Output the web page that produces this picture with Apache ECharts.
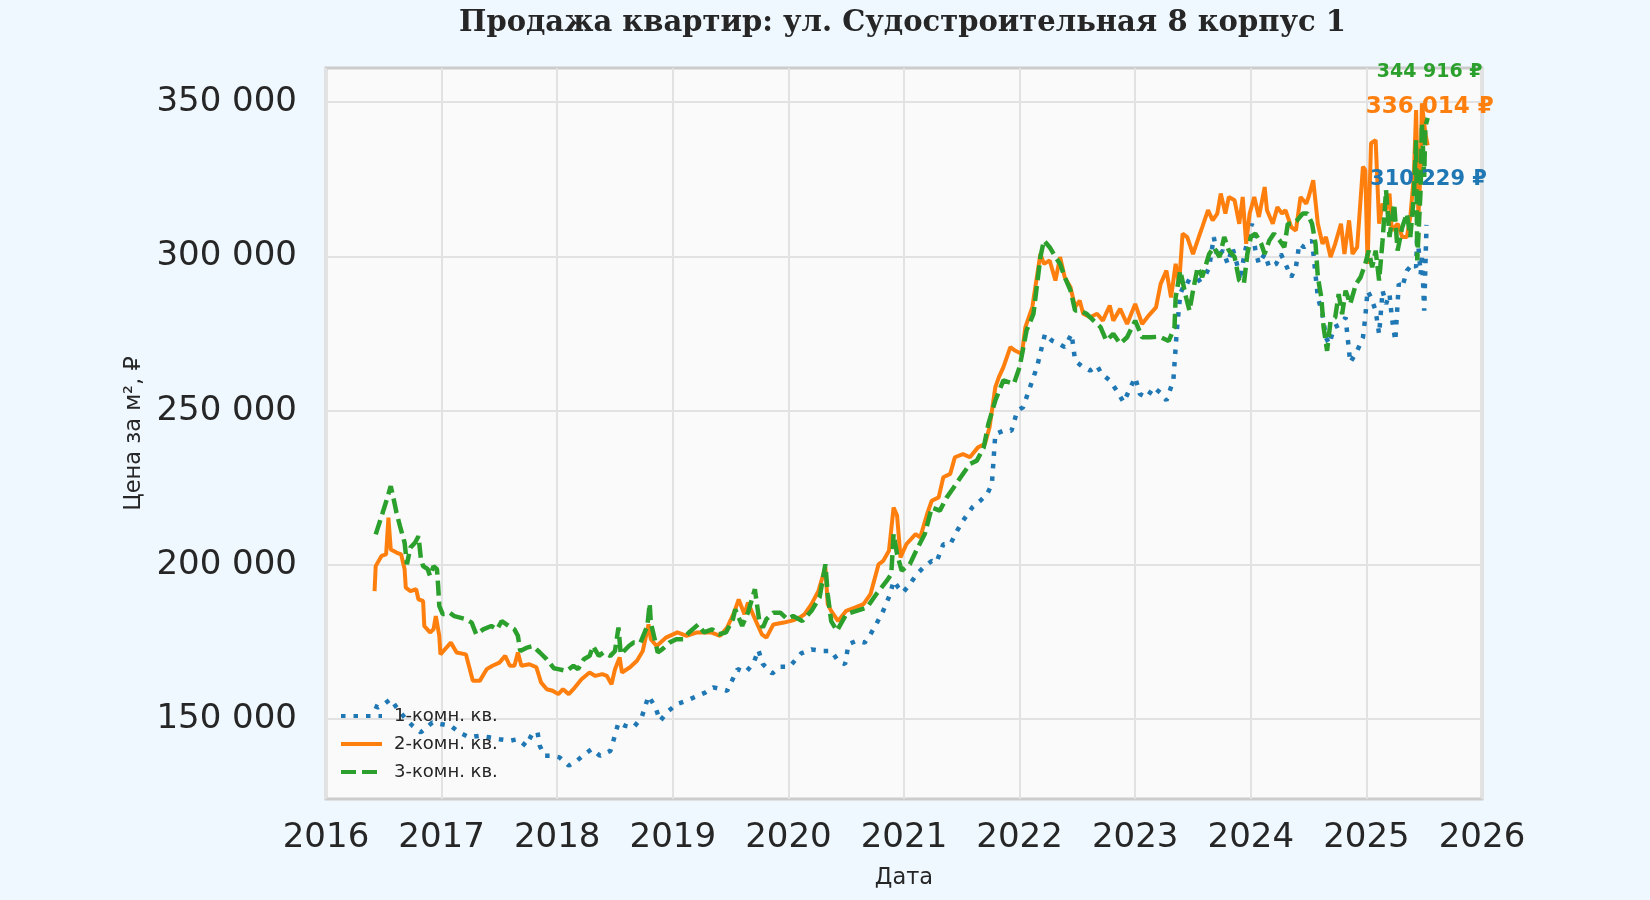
<!DOCTYPE html>
<html><head><meta charset="utf-8">
<script src="https://cdn.jsdelivr.net/npm/echarts@6/dist/echarts.min.js"></script>
<style>html,body{margin:0;padding:0;background:#f0f8ff;}#c{width:1650px;height:900px;}</style>
</head><body><div id="c"></div>
<script>
const titleText = 'Продажа квартир: ул. Судостроительная 8 корпус 1';
const seriesNames = ['1-комн. кв.', '2-комн. кв.', '3-комн. кв.'];
const xAxisTitle = 'Дата';
const yAxisTitle = 'Цена за м², ₽';
const yTicks = [150000, 200000, 250000, 300000, 350000];
const xTicks = [2016, 2017, 2018, 2019, 2020, 2021, 2022, 2023, 2024, 2025, 2026];

// [decimal year, price per m²]
const room1 = [
[2016.42,154300],[2016.45,153800],[2016.50,154800],[2016.56,156500],[2016.61,153800],[2016.69,150000],
[2016.75,147800],[2016.82,145700],[2016.92,148900],[2016.99,148400],[2017.08,147800],[2017.15,145700],
[2017.24,144100],[2017.33,144600],[2017.41,144100],[2017.50,143500],[2017.59,143000],[2017.66,143500],
[2017.73,141300],[2017.79,145700],[2017.83,145700],[2017.85,141300],[2017.89,138100],[2017.96,138100],
[2018.02,137600],[2018.10,134900],[2018.17,136500],[2018.24,138700],[2018.30,140300],[2018.37,138100],
[2018.46,139700],[2018.49,143500],[2018.53,148900],[2018.59,147800],[2018.66,147300],[2018.73,150500],
[2018.79,157500],[2018.85,153800],[2018.89,149400],[2018.95,152200],[2019.03,154800],[2019.12,156000],
[2019.21,157500],[2019.28,158600],[2019.35,160300],[2019.42,159700],[2019.47,159200],[2019.56,166200],
[2019.63,165100],[2019.70,168300],[2019.74,172400],[2019.78,167800],[2019.86,164800],[2019.93,167000],
[2020.01,167000],[2020.11,171300],[2020.20,172600],[2020.29,172100],[2020.37,172100],[2020.43,168900],
[2020.49,167800],[2020.52,174300],[2020.59,175400],[2020.66,174800],[2020.71,177500],[2020.76,180800],
[2020.82,185100],[2020.88,190500],[2020.91,194800],[2020.95,192700],[2020.99,191000],[2021.05,193700],
[2021.11,197000],[2021.17,199200],[2021.24,201300],[2021.28,200800],[2021.34,206700],[2021.40,206700],
[2021.46,211100],[2021.51,214300],[2021.59,218600],[2021.66,220800],[2021.72,223000],[2021.76,226200],
[2021.79,242400],[2021.86,243500],[2021.93,243500],[2021.98,250000],[2022.03,251100],[2022.09,257600],
[2022.15,264100],[2022.22,274900],[2022.28,272700],[2022.34,271700],[2022.39,270600],[2022.45,274900],
[2022.48,266200],[2022.55,264100],[2022.61,263000],[2022.67,264600],[2022.71,261900],[2022.78,259800],
[2022.84,256500],[2022.90,252700],[2022.96,257600],[2023.00,260800],[2023.04,255400],[2023.10,254300],
[2023.16,257600],[2023.23,255400],[2023.27,253300],[2023.33,259800],[2023.36,276000],[2023.39,287900],
[2023.44,292200],[2023.50,291100],[2023.55,292200],[2023.60,293300],[2023.64,296500],[2023.68,306300],
[2023.71,299800],[2023.76,301900],[2023.80,297600],[2023.84,303000],[2023.88,297600],[2023.91,292200],
[2023.94,299800],[2023.99,308400],[2024.01,310600],[2024.04,301900],[2024.07,297600],[2024.12,300800],
[2024.16,296500],[2024.22,297600],[2024.26,300800],[2024.30,297600],[2024.35,293300],[2024.39,296500],
[2024.42,304100],[2024.46,303000],[2024.50,304100],[2024.53,305200],[2024.58,286700],[2024.62,281300],
[2024.65,273700],[2024.68,271600],[2024.72,277000],[2024.78,278100],[2024.82,280200],[2024.86,265600],
[2024.92,269400],[2024.97,273700],[2024.99,280200],[2025.01,288900],[2025.04,286700],[2025.08,282400],
[2025.11,274800],[2025.14,288900],[2025.17,284600],[2025.20,287800],[2025.22,280200],[2025.25,272600],
[2025.28,291100],[2025.31,290000],[2025.35,295400],[2025.40,297600],[2025.43,296500],[2025.44,307400],
[2025.47,294300],[2025.48,300800],[2025.50,282400],[2025.52,310229]
];

const room2 = [
[2016.42,191500],[2016.43,199600],[2016.48,202900],[2016.52,203400],[2016.54,215300],[2016.56,205000],
[2016.61,204000],[2016.65,203400],[2016.68,198600],[2016.69,192600],[2016.73,191500],[2016.78,192100],
[2016.80,188800],[2016.84,188300],[2016.85,180200],[2016.90,178100],[2016.93,179100],[2016.95,183400],
[2016.98,177000],[2016.99,171000],[2017.08,174800],[2017.13,171600],[2017.21,171000],[2017.27,162400],
[2017.33,162400],[2017.39,166200],[2017.44,167300],[2017.50,168300],[2017.55,170500],[2017.59,167300],
[2017.63,167300],[2017.66,171600],[2017.69,167300],[2017.76,167800],[2017.82,166800],[2017.86,161900],
[2017.91,159700],[2017.96,159200],[2018.01,158100],[2018.05,159700],[2018.10,158100],[2018.14,159700],
[2018.21,162900],[2018.28,165100],[2018.33,164000],[2018.39,164600],[2018.43,164000],[2018.47,161300],
[2018.50,166200],[2018.54,170000],[2018.56,165100],[2018.63,166800],[2018.69,168900],[2018.74,172100],
[2018.79,180700],[2018.81,175900],[2018.86,173700],[2018.94,176400],[2019.04,178100],[2019.12,177000],
[2019.21,178100],[2019.33,178100],[2019.41,177000],[2019.47,179700],[2019.53,184500],[2019.57,188800],
[2019.62,184000],[2019.65,187800],[2019.70,183400],[2019.77,177500],[2019.81,176400],[2019.87,180700],
[2019.96,181300],[2020.04,182000],[2020.10,183000],[2020.14,184000],[2020.20,187300],[2020.26,191600],
[2020.32,199200],[2020.34,187300],[2020.37,185100],[2020.43,181800],[2020.50,185100],[2020.58,186200],
[2020.65,187300],[2020.71,190500],[2020.78,200200],[2020.82,201300],[2020.87,204600],[2020.91,218600],
[2020.92,219000],[2020.94,216000],[2020.97,202400],[2021.02,206700],[2021.10,210000],[2021.14,208900],
[2021.20,216500],[2021.24,220800],[2021.30,221900],[2021.34,228400],[2021.40,229500],[2021.44,234900],
[2021.51,235900],[2021.57,234900],[2021.64,238100],[2021.70,239200],[2021.74,244600],[2021.79,257600],
[2021.82,260800],[2021.86,264100],[2021.92,270600],[2021.96,269500],[2022.02,268400],[2022.05,277100],
[2022.11,283600],[2022.18,300900],[2022.21,297600],[2022.26,298700],[2022.31,292200],[2022.35,299800],
[2022.39,293300],[2022.44,290000],[2022.48,283600],[2022.52,285700],[2022.55,281400],[2022.61,280300],
[2022.67,281400],[2022.72,279200],[2022.78,284100],[2022.81,279200],[2022.87,283000],[2022.93,278100],
[2023.00,284600],[2023.06,278100],[2023.12,281000],[2023.18,283500],[2023.22,291100],[2023.27,295400],
[2023.31,286700],[2023.35,297600],[2023.38,291100],[2023.41,307400],[2023.45,306300],[2023.50,300800],
[2023.55,306300],[2023.58,309500],[2023.63,315000],[2023.67,311700],[2023.71,313900],[2023.74,320400],
[2023.78,313900],[2023.81,319300],[2023.86,318200],[2023.90,310600],[2023.93,319300],[2023.96,304100],
[2023.99,313900],[2024.03,319300],[2024.07,312800],[2024.12,322500],[2024.14,315000],[2024.19,310600],
[2024.23,316000],[2024.27,313900],[2024.30,315000],[2024.35,309500],[2024.39,308400],[2024.43,319300],
[2024.48,317100],[2024.50,319300],[2024.54,324700],[2024.58,310600],[2024.62,304100],[2024.65,306300],
[2024.69,299800],[2024.73,304100],[2024.78,310600],[2024.81,300800],[2024.85,311700],[2024.88,300800],
[2024.92,303000],[2024.97,329100],[2024.99,328000],[2025.01,297600],[2025.04,336700],[2025.08,337700],
[2025.11,310600],[2025.14,317100],[2025.17,315000],[2025.20,320400],[2025.22,308400],[2025.27,310600],
[2025.31,306300],[2025.35,306300],[2025.38,312800],[2025.41,325800],[2025.43,347500],[2025.45,312800],
[2025.47,329100],[2025.48,349700],[2025.51,339900],[2025.53,336014]
];

const room3 = [
[2016.43,209900],[2016.49,216900],[2016.53,221700],[2016.56,225500],[2016.58,222300],[2016.61,216900],
[2016.64,212600],[2016.68,207200],[2016.70,200200],[2016.73,205600],[2016.77,207200],[2016.80,209300],
[2016.82,202300],[2016.84,199600],[2016.88,198600],[2016.90,196400],[2016.93,199600],[2016.96,198600],
[2016.97,193200],[2016.98,186700],[2017.01,184000],[2017.07,184500],[2017.11,183400],[2017.16,182900],
[2017.21,182400],[2017.26,181300],[2017.30,177500],[2017.36,179100],[2017.43,180200],[2017.48,179100],
[2017.52,181800],[2017.58,180200],[2017.63,179100],[2017.66,177000],[2017.68,172100],[2017.74,173200],
[2017.79,173700],[2017.85,171600],[2017.91,169400],[2017.97,166500],[2018.01,166200],[2018.08,165600],
[2018.14,167300],[2018.18,166200],[2018.23,169400],[2018.28,170500],[2018.31,173700],[2018.36,170500],
[2018.40,171600],[2018.46,170500],[2018.50,172100],[2018.53,179700],[2018.55,171000],[2018.62,173700],
[2018.66,174800],[2018.72,174800],[2018.78,180200],[2018.80,187500],[2018.81,181300],[2018.87,171600],
[2018.91,172700],[2018.97,174800],[2019.03,175900],[2019.09,175900],[2019.14,178100],[2019.22,180700],
[2019.27,178100],[2019.34,179100],[2019.40,177500],[2019.46,178100],[2019.52,182400],[2019.54,185600],
[2019.60,180200],[2019.65,184500],[2019.71,192100],[2019.75,181300],[2019.78,179700],[2019.81,182400],
[2019.87,184500],[2019.93,184500],[2019.99,182400],[2020.04,183400],[2020.12,181800],[2020.20,185100],
[2020.27,189500],[2020.32,200200],[2020.34,190500],[2020.37,181800],[2020.42,178600],[2020.50,184000],
[2020.59,185100],[2020.68,186200],[2020.76,190500],[2020.85,194800],[2020.89,197000],[2020.91,210000],
[2020.94,203500],[2020.98,198100],[2021.05,200200],[2021.12,205700],[2021.18,210000],[2021.24,218600],
[2021.31,217600],[2021.37,221900],[2021.43,225100],[2021.49,228400],[2021.57,232700],[2021.63,233800],
[2021.69,238100],[2021.73,245700],[2021.79,253300],[2021.86,259800],[2021.95,258700],[2022.00,264100],
[2022.06,276000],[2022.12,281400],[2022.18,299800],[2022.21,305200],[2022.26,303000],[2022.31,299800],
[2022.35,297600],[2022.39,293300],[2022.44,289000],[2022.48,282500],[2022.52,282500],[2022.58,281400],
[2022.64,279200],[2022.70,277100],[2022.75,272700],[2022.81,274900],[2022.87,271700],[2022.93,273800],
[2023.00,279200],[2023.06,273800],[2023.13,273800],[2023.21,274000],[2023.29,272600],[2023.34,277000],
[2023.35,286700],[2023.39,295400],[2023.44,286700],[2023.47,282400],[2023.50,288900],[2023.54,296500],
[2023.58,293300],[2023.64,300800],[2023.68,303000],[2023.73,299800],[2023.77,306300],[2023.81,301900],
[2023.86,299800],[2023.90,292200],[2023.94,291100],[2023.97,300800],[2024.00,306300],[2024.04,307400],
[2024.09,304100],[2024.12,300800],[2024.16,305200],[2024.20,307400],[2024.25,305200],[2024.29,303000],
[2024.32,310600],[2024.36,310600],[2024.40,311700],[2024.45,313900],[2024.49,313900],[2024.53,310600],
[2024.56,304100],[2024.58,293300],[2024.61,286700],[2024.63,277000],[2024.66,269400],[2024.69,279100],
[2024.73,280200],[2024.76,287800],[2024.79,281300],[2024.82,288900],[2024.86,284600],[2024.91,291100],
[2024.95,293300],[2024.99,297600],[2025.02,301900],[2025.05,296500],[2025.08,301900],[2025.11,292200],
[2025.14,305200],[2025.17,321500],[2025.20,306300],[2025.24,317100],[2025.27,301900],[2025.31,309500],
[2025.35,313900],[2025.38,306300],[2025.41,319300],[2025.43,337700],[2025.44,298700],[2025.47,322500],
[2025.48,343200],[2025.50,325800],[2025.51,342100],[2025.53,344916]
];

const fmt = v => String(Math.round(v)).replace(/\B(?=(\d{3})+(?!\d))/g, ' ');
const FONT = 'DejaVu Sans';
const TXT = '#262626';

function lastLabel(data, color, size, offset) {
  const last = data[data.length - 1];
  return {
    symbol: 'circle', symbolSize: 1,
    itemStyle: { color: 'rgba(0,0,0,0)' },
    label: { show: true, position: 'inside', formatter: fmt(last[1]) + ' ₽', color: color,
      fontFamily: FONT, fontWeight: 'bold', fontSize: size, offset: offset },
    data: [{ coord: [last[0], last[1]] }]
  };
}

const chart = echarts.init(document.getElementById('c'), null, { renderer: 'canvas' });
chart.setOption({
  backgroundColor: '#f0f8ff',
  animation: false,
  title: {
    text: titleText, left: 459, top: 7, padding: 0,
    textStyle: { fontFamily: 'DejaVu Serif', fontWeight: 'bold', fontSize: 29, color: TXT, lineHeight: 32 }
  },
  legend: {
    data: seriesNames, orient: 'vertical', left: 339, top: 707, padding: 0,
    itemWidth: 41, itemHeight: 14, itemGap: 10,
    itemStyle: { opacity: 0 },
    lineStyle: { width: 4, opacity: 1 },
    textStyle: { fontFamily: FONT, fontSize: 18, color: TXT, padding: [0, 0, 0, 7] }
  },
  grid: {
    left: 326, right: 168, top: 68, bottom: 101, show: true,
    backgroundColor: '#fafafa', borderColor: '#cccccc', borderWidth: 3,
    outerBoundsMode: 'none'
  },
  xAxis: {
    type: 'value', min: xTicks[0], max: xTicks[xTicks.length - 1], interval: 1,
    name: xAxisTitle, nameLocation: 'middle', nameGap: 68,
    nameTextStyle: { fontFamily: FONT, fontSize: 22.5, color: TXT },
    axisLine: { show: false }, axisTick: { show: false },
    axisLabel: { fontFamily: FONT, fontSize: 34, color: TXT, margin: 22,
      showMinLabel: true, showMaxLabel: true, formatter: v => String(Math.round(v)) },
    splitLine: { show: true, lineStyle: { color: '#e2e2e2', width: 2 } }
  },
  yAxis: {
    type: 'value', min: 124100, max: 361100,
    name: yAxisTitle, nameLocation: 'middle', nameGap: 178,
    nameTextStyle: { fontFamily: FONT, fontSize: 22.5, color: TXT },
    axisLine: { show: false },
    axisTick: { show: false, customValues: yTicks },
    axisLabel: { fontFamily: FONT, fontSize: 34, color: TXT, margin: 29, customValues: yTicks, formatter: v => fmt(v) },
    splitLine: { show: true, lineStyle: { color: '#e2e2e2', width: 2 } }
  },
  series: [
    { name: seriesNames[0], type: 'line', data: room1, symbol: 'none', showSymbol: false,
      itemStyle: { color: '#1f77b4' },
      lineStyle: { color: '#1f77b4', width: 4.5, type: [4.5, 8], cap: 'butt' },
      markPoint: lastLabel(room1, '#1f77b4', 21, [2, -45]) },
    { name: seriesNames[1], type: 'line', data: room2, symbol: 'none', showSymbol: false,
      itemStyle: { color: '#ff7f0e' },
      lineStyle: { color: '#ff7f0e', width: 4 },
      markPoint: lastLabel(room2, '#ff7f0e', 23, [2, -38]) },
    { name: seriesNames[2], type: 'line', data: room3, symbol: 'none', showSymbol: false,
      itemStyle: { color: '#2ca02c' },
      lineStyle: { color: '#2ca02c', width: 4.5, type: [15, 6] },
      markPoint: lastLabel(room3, '#2ca02c', 19, [2, -46]) }
  ]
});
</script>
</body></html>
